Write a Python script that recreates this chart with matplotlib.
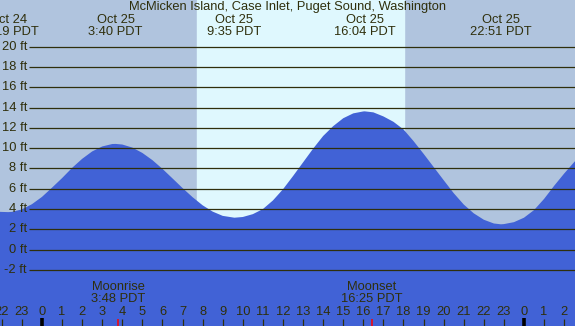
import matplotlib
matplotlib.use('Agg')
import matplotlib.pyplot as plt

# Tide heights (ft) every half hour (plus the labelled
# highs/lows); hours are relative to Oct 25 00:00 PDT
tide_hours = [-3, -2.5, -2, -1.68, -1.5, -1, -0.5, 0, 0.5, 1, 1.5, 2, 2.5, 3,
              3.5, 3.667, 4, 4.5, 5, 5.5, 6, 6.5, 7, 7.5, 8, 8.5, 9, 9.583,
              10, 10.5, 11, 11.5, 12, 12.5, 13, 13.5, 14, 14.5, 15, 15.5, 16,
              16.067, 16.5, 17, 17.5, 18, 18.5, 19, 19.5, 20, 20.5, 21, 21.5,
              22, 22.5, 22.85, 23, 23.5, 24, 24.5, 25, 25.5, 26, 26.5, 27]
tide_feet = [3.85, 3.76, 3.72, 3.70, 3.72, 3.97, 4.48, 5.2, 6.11, 7.05, 8.06,
             8.95, 9.68, 10.17, 10.41, 10.42, 10.36, 10.06, 9.53, 8.82, 7.96,
             7.02, 6.07, 5.17, 4.37, 3.75, 3.33, 3.15,
             3.22, 3.5, 4.0, 4.85, 5.95, 7.25, 8.6, 9.95, 11.2, 12.17, 12.95,
             13.43, 13.62, 13.63, 13.53, 13.13, 12.6, 11.85, 10.7, 9.45, 8.15,
             6.85, 5.57, 4.45, 3.58, 2.95, 2.58, 2.5, 2.52, 2.71, 3.15, 3.9,
             5.0, 6.29, 7.5, 8.63, 9.7]

# High/low labels along the top
extreme_hours = [-1.68, 3.667, 9.583, 16.067, 22.85]
extreme_dates = ['Oct 24', 'Oct 25', 'Oct 25', 'Oct 25', 'Oct 25']
extreme_times = ['22:19 PDT', '3:40 PDT', '9:35 PDT', '16:04 PDT', '22:51 PDT']

# Moon events along the bottom
moon_hours = [3.8, 16.417]
moon_names = ['Moonrise', 'Moonset']
moon_times = ['3:48 PDT', '16:25 PDT']

sunrise, sunset = 7.72, 18.03
grid_feet = list(range(-2, 21, 2))
hour_ticks = list(range(-2, 27))

TITLE = 'McMicken Island, Case Inlet, Puget Sound, Washington'
NIGHT = '#b0c4de'
DAY = '#dff8fe'
WATER = '#4162d6'
INK = '#2f2f0c'

plt.rcParams['font.family'] = ['Liberation Sans', 'DejaVu Sans']

fig = plt.figure(figsize=(5.75, 3.26), dpi=100)
ax = fig.add_axes([0, 0, 1, 1])
ax.set_facecolor(NIGHT)
x0, x1 = -2.09, 26.54
y0, y1 = -7.52, 24.6
ax.set_xlim(x0, x1)
ax.set_ylim(y0, y1)
ax.axis('off')
fig.patch.set_facecolor(NIGHT)

ax.axvspan(sunrise, sunset, color=DAY, zorder=1)
ax.fill_between(tide_hours, tide_feet, y0, color=WATER, lw=0, zorder=2)

fs = 9.3

# horizontal ft lines start just right of the labels
grid_start = x0 + 29 / 20.08
for ft in grid_feet:
    ax.hlines(ft, grid_start, x1, color=INK, lw=0.9, zorder=3)
    ax.text(grid_start - 0.1, ft, f'{ft} ft', ha='right', va='center',
            fontsize=fs, color=INK, zorder=4)

xt = ax.get_xaxis_transform()
ax.text(0.5, 0.977, TITLE, transform=ax.transAxes, ha='center', va='center',
        fontsize=fs, color=INK)
for h, d, t in zip(extreme_hours, extreme_dates, extreme_times):
    ax.text(h, 0.939, d, transform=xt, ha='center', va='center',
            fontsize=fs, color=INK)
    ax.text(h, 0.903, t, transform=xt, ha='center', va='center',
            fontsize=fs, color=INK)

for h, n, t in zip(moon_hours, moon_names, moon_times):
    ax.text(h, 0.12, n, transform=xt, ha='center', va='center',
            fontsize=fs, color=INK)
    ax.text(h, 0.082, t, transform=xt, ha='center', va='center',
            fontsize=fs, color=INK)

for h in hour_ticks:
    ax.text(h, 0.044, str(h % 24), transform=xt, ha='center', va='center',
            fontsize=fs, color=INK)
    if h % 24 == 0:
        ax.vlines(h, 0, 0.024, transform=xt, color='black', lw=2.6, zorder=5)
    else:
        ax.vlines(h, 0, 0.022, transform=xt, color=INK, lw=0.9, zorder=5)
for h in moon_hours:
    ax.vlines(h, 0, 0.022, transform=xt, color='red', lw=1.1, zorder=6)

fig.savefig('out.png', dpi=100, facecolor=NIGHT)
